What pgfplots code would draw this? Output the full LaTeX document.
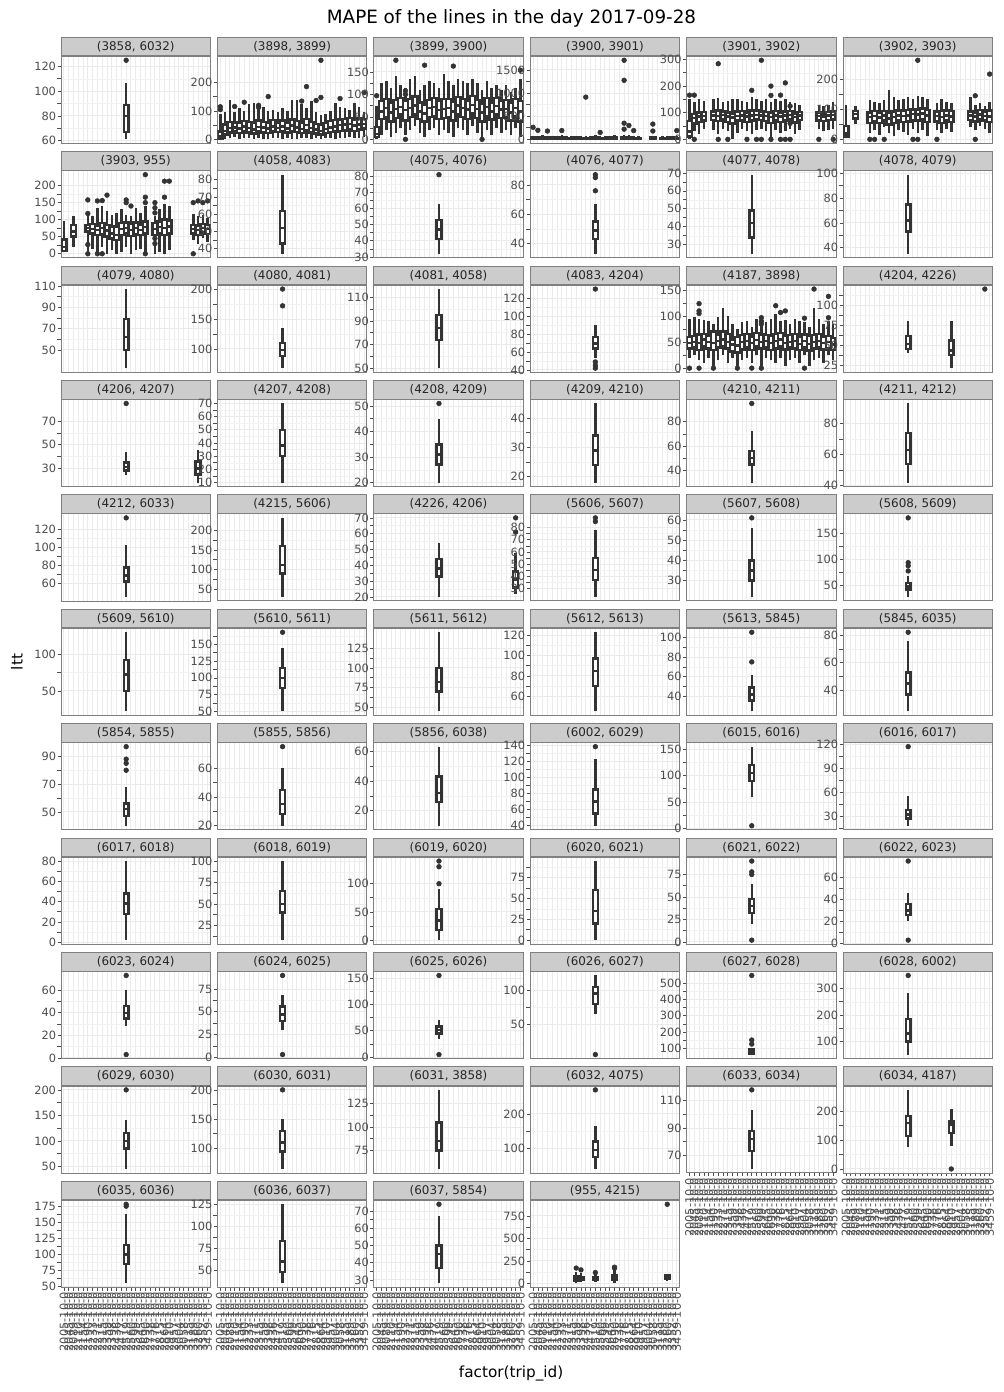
\documentclass[border=0pt]{standalone}
\usepackage{pgfplots}
\pgfplotsset{compat=1.18}
\usepackage{fontspec}
\setmainfont{DejaVu Sans}
\definecolor{bxc}{HTML}{333333}
\definecolor{bord}{HTML}{7F7F7F}
\definecolor{stripc}{HTML}{CCCCCC}
\definecolor{gmaj}{HTML}{EBEBEB}
\definecolor{gmin}{HTML}{F2F2F2}
\definecolor{tickl}{HTML}{4D4D4D}
\newcommand{\tkf}{\fontsize{8.2}{9}\selectfont}
\pgfplotsset{
 every axis title shift=0pt,
 pan/.style={
  scale only axis, width=107.64pt, height=62.64pt, anchor=north west,
  xmin=0.4, xmax=31.6, xtick={1,...,31}, xticklabels={}, xtick style={draw=none},
  enlarge y limits=0.05, scaled y ticks=false,
  axis line style={draw=bord, line width=0.6pt},
  grid=both, major grid style={draw=gmaj, line width=0.7pt}, minor grid style={draw=gmin, line width=0.4pt},
  minor y tick num=1, minor tick style={draw=none},
  ytick style={draw=tickl, line width=0.5pt}, tick align=outside, major tick length=2.4pt,
  ytick pos=left, xtick pos=bottom,
  yticklabel style={font=\tkf, text=tickl, inner sep=1pt},
  title style={at={(0.5,1)}, anchor=south, yshift=0pt, fill=stripc, draw=bord, line width=0.6pt,
    minimum width=107.64pt, minimum height=13.46pt, inner sep=0pt, font=\fontsize{8.6}{10}\selectfont, text=black!85},
  /pgf/number format/1000 sep={},
  /pgf/number format/assume math mode=true,
 },
 bot/.style={
  xtick style={draw=tickl, line width=0.5pt},
  xticklabels={2005-10-0,2045-10-0,2089-10-0,2110-10-0,2154-10-0,2190-10-0,2233-10-0,2271-10-0,2315-10-0,2359-10-0,2398-10-0,2436-10-0,2477-10-0,2519-10-0,2560-10-0,2599-10-0,2645-10-0,2690-10-0,2738-10-0,2776-10-0,2815-10-0,2864-10-0,2910-10-0,2957-10-0,3004-10-0,3058-10-0,3115-10-0,3189-10-0,3260-10-0,3352-10-0,3459-10-0},
  xticklabel style={rotate=90, anchor=east, font=\tkf, text=tickl, inner sep=1pt},
 },
 wsk/.style={draw=bxc, line width=1.8pt, mark=none},
 bxst/.style={draw=bxc, fill=white, line width=1.8pt, line join=miter, mark=none},
 omk/.style={only marks, mark=*, mark size=1.7pt, color=bxc},
}
\newcommand{\bxp}[6]{%
 \pgfmathsetmacro\xa{#1-0.5}\pgfmathsetmacro\xb{#1+0.5}%
 \edef\tmp{\noexpand\addplot[wsk] coordinates {(#1,#2) (#1,#6)};%
 \noexpand\addplot[bxst] coordinates {(\xa,#3) (\xb,#3) (\xb,#5) (\xa,#5) (\xa,#3) (\xb,#3)};%
 \noexpand\addplot[wsk] coordinates {(\xa,#4) (\xb,#4)};}\tmp}
\newcommand{\ou}[1]{\addplot[omk] coordinates {#1};}
\begin{document}
\begin{tikzpicture}
% ---------------- row 0
\begin{axis}[pan, at={(43.92pt,-40.54pt)}, title={(3858, 6032)}, ytick={60,80,...,120}]
\bxp{14}{61}{67}{80}{89}{107}
\ou{(14,125)}
\end{axis}
\begin{axis}[pan, at={(156.53pt,-40.54pt)}, title={(3898, 3899)}, ytick={0,100,200}]
\bxp{1}{0}{3}{10}{28}{90}
\bxp{2}{2}{18}{30}{52}{95}
\bxp{3}{5}{25}{40}{62}{140}
\bxp{4}{8}{28}{42}{60}{95}
\bxp{5}{3}{22}{38}{58}{110}
\bxp{6}{6}{30}{45}{65}{100}
\bxp{7}{4}{24}{40}{62}{125}
\bxp{8}{2}{20}{35}{60}{130}
\bxp{9}{5}{28}{44}{66}{120}
\bxp{10}{3}{25}{42}{62}{115}
\bxp{11}{0}{22}{38}{58}{100}
\bxp{12}{6}{30}{46}{68}{105}
\bxp{13}{4}{26}{40}{60}{95}
\bxp{14}{3}{28}{45}{66}{110}
\bxp{15}{5}{24}{38}{58}{100}
\bxp{16}{2}{30}{48}{70}{140}
\bxp{17}{0}{26}{42}{65}{140}
\bxp{18}{4}{22}{36}{60}{125}
\bxp{19}{6}{32}{50}{72}{110}
\bxp{20}{2}{24}{40}{62}{135}
\bxp{21}{5}{20}{34}{55}{95}
\bxp{22}{3}{18}{30}{50}{85}
\bxp{23}{4}{22}{36}{58}{90}
\bxp{24}{5}{26}{42}{64}{100}
\bxp{25}{2}{28}{46}{68}{130}
\bxp{26}{6}{30}{50}{70}{115}
\bxp{27}{4}{32}{52}{72}{110}
\bxp{28}{8}{35}{55}{75}{105}
\bxp{29}{5}{30}{48}{70}{130}
\bxp{30}{6}{34}{52}{74}{115}
\bxp{31}{10}{38}{55}{72}{95}
\ou{(1,105) (1,115) (4,116) (6,131) (9,113) (9,120) (11,151) (18,135) (19,186) (21,137) (22,148) (22,279) (26,144) (31,165)}
\end{axis}
\begin{axis}[pan, at={(269.14pt,-40.54pt)}, title={(3899, 3900)}, ytick={0,50,...,150}]
\bxp{1}{0}{5}{12}{28}{75}
\bxp{2}{10}{45}{62}{85}{125}
\bxp{3}{20}{50}{70}{90}{130}
\bxp{4}{5}{40}{60}{82}{115}
\bxp{5}{15}{48}{68}{88}{140}
\bxp{6}{25}{55}{72}{92}{120}
\bxp{7}{10}{42}{65}{85}{115}
\bxp{8}{20}{50}{70}{90}{135}
\bxp{9}{30}{55}{75}{95}{140}
\bxp{10}{15}{45}{62}{82}{110}
\bxp{11}{5}{40}{58}{78}{120}
\bxp{12}{20}{50}{70}{88}{130}
\bxp{13}{25}{52}{72}{92}{125}
\bxp{14}{10}{45}{65}{86}{115}
\bxp{15}{20}{48}{68}{90}{145}
\bxp{16}{15}{50}{70}{90}{130}
\bxp{17}{5}{42}{62}{84}{120}
\bxp{18}{25}{55}{75}{94}{135}
\bxp{19}{20}{50}{70}{90}{130}
\bxp{20}{10}{45}{66}{86}{125}
\bxp{21}{30}{58}{76}{96}{135}
\bxp{22}{15}{48}{68}{88}{125}
\bxp{23}{5}{40}{60}{80}{110}
\bxp{24}{20}{52}{72}{92}{130}
\bxp{25}{10}{44}{62}{82}{115}
\bxp{26}{25}{55}{74}{92}{120}
\bxp{27}{15}{48}{66}{86}{110}
\bxp{28}{20}{50}{68}{88}{120}
\bxp{29}{10}{42}{60}{82}{105}
\bxp{30}{25}{52}{70}{90}{115}
\bxp{31}{5}{40}{62}{85}{135}
\ou{(1,97) (5,176) (7,100) (7,108) (7,0) (11,165) (17,163) (23,0) (31,154)}
\end{axis}
\begin{axis}[pan, at={(381.74pt,-40.54pt)}, title={(3900, 3901)}, ytick={0,500,1000,1500}]
\bxp{1}{0}{5}{15}{35}{80}
\bxp{2}{0}{4}{12}{30}{70}
\bxp{3}{0}{6}{15}{38}{85}
\bxp{4}{0}{3}{10}{28}{65}
\bxp{5}{0}{5}{14}{35}{80}
\bxp{6}{0}{4}{12}{30}{75}
\bxp{7}{0}{6}{16}{40}{90}
\bxp{8}{0}{5}{13}{32}{70}
\bxp{9}{0}{4}{12}{30}{65}
\bxp{10}{0}{5}{15}{36}{80}
\bxp{11}{0}{6}{14}{34}{75}
\bxp{12}{0}{5}{13}{30}{70}
\bxp{13}{0}{4}{12}{32}{75}
\bxp{14}{0}{6}{15}{38}{85}
\bxp{15}{0}{5}{14}{33}{70}
\bxp{16}{0}{4}{12}{30}{65}
\bxp{17}{0}{5}{15}{35}{80}
\bxp{18}{0}{6}{16}{40}{90}
\bxp{20}{0}{8}{20}{45}{100}
\bxp{21}{0}{6}{15}{38}{85}
\bxp{22}{0}{5}{14}{34}{75}
\bxp{23}{0}{4}{12}{30}{70}
\bxp{26}{0}{5}{14}{35}{80}
\bxp{28}{0}{4}{12}{30}{70}
\bxp{29}{0}{5}{14}{34}{75}
\bxp{30}{0}{6}{15}{36}{80}
\bxp{31}{0}{5}{14}{34}{75}
\ou{(1,260) (2,195) (4,180) (7,190) (12,913) (15,150) (20,1710) (20,1277) (20,350) (20,220) (21,300) (22,190) (26,330) (26,180) (31,190)}
\end{axis}
\begin{axis}[pan, at={(494.35pt,-40.54pt)}, title={(3901, 3902)}, ytick={0,100,200,300}]
\bxp{1}{0}{10}{30}{68}{150}
\bxp{2}{30}{60}{80}{95}{140}
\bxp{3}{20}{65}{85}{100}{150}
\bxp{4}{40}{70}{88}{102}{145}
\bxp{6}{35}{72}{90}{105}{150}
\bxp{7}{20}{68}{88}{108}{155}
\bxp{8}{40}{75}{92}{105}{140}
\bxp{9}{30}{65}{85}{100}{145}
\bxp{10}{0}{60}{82}{98}{150}
\bxp{11}{25}{70}{88}{104}{150}
\bxp{12}{40}{72}{90}{106}{145}
\bxp{13}{30}{66}{86}{100}{140}
\bxp{14}{20}{70}{90}{108}{160}
\bxp{15}{35}{74}{92}{108}{150}
\bxp{16}{40}{72}{90}{104}{145}
\bxp{17}{30}{68}{88}{102}{150}
\bxp{18}{10}{62}{84}{100}{140}
\bxp{19}{35}{70}{90}{106}{150}
\bxp{20}{25}{66}{86}{100}{145}
\bxp{21}{30}{70}{90}{104}{150}
\bxp{22}{40}{74}{92}{106}{140}
\bxp{23}{20}{64}{84}{98}{135}
\bxp{24}{35}{72}{90}{102}{130}
\bxp{28}{40}{70}{88}{100}{130}
\bxp{29}{30}{68}{86}{98}{125}
\bxp{30}{35}{72}{90}{102}{130}
\bxp{31}{40}{74}{92}{104}{140}
\ou{(1,166) (2,166) (7,284) (14,184) (16,297) (18,200) (18,165) (20,166) (21,212) (22,125) (22,60) (2,0) (7,0) (9,0) (13,0) (15,0) (16,0) (18,0) (20,0) (21,0) (22,0) (28,0) (31,0)}
\end{axis}
\begin{axis}[pan, at={(606.96pt,-40.54pt)}, title={(3902, 3903)}, ytick={0,100,200}]
\bxp{1}{5}{10}{20}{45}{115}
\bxp{3}{50}{70}{85}{95}{110}
\bxp{6}{20}{55}{75}{90}{130}
\bxp{7}{30}{60}{78}{95}{125}
\bxp{8}{15}{55}{72}{88}{120}
\bxp{9}{40}{62}{80}{95}{130}
\bxp{10}{20}{50}{70}{90}{165}
\bxp{11}{10}{55}{75}{92}{140}
\bxp{12}{30}{62}{80}{96}{130}
\bxp{13}{25}{58}{78}{94}{135}
\bxp{14}{15}{60}{80}{98}{140}
\bxp{15}{35}{65}{84}{100}{135}
\bxp{16}{20}{62}{82}{100}{145}
\bxp{17}{30}{66}{86}{102}{140}
\bxp{18}{10}{58}{80}{98}{135}
\bxp{20}{30}{60}{78}{92}{120}
\bxp{21}{20}{55}{75}{95}{135}
\bxp{22}{35}{62}{80}{96}{125}
\bxp{23}{25}{58}{76}{94}{120}
\bxp{27}{40}{65}{80}{92}{140}
\bxp{28}{30}{60}{76}{90}{115}
\bxp{29}{45}{68}{82}{98}{120}
\bxp{30}{35}{62}{78}{92}{110}
\bxp{31}{20}{58}{76}{96}{125}
\ou{(16,263) (31,217) (28,145) (6,0) (7,0) (9,0) (15,0) (16,0) (20,0) (28,0)}
\end{axis}
% ---------------- row 1
\begin{axis}[pan, at={(43.92pt,-122.91pt)}, title={(3903, 955)}, ytick={0,50,...,200}]
\bxp{1}{5}{8}{20}{42}{95}
\bxp{3}{20}{50}{65}{85}{112}
\bxp{6}{0}{65}{75}{85}{115}
\bxp{7}{15}{60}{72}{88}{110}
\bxp{8}{5}{55}{70}{82}{135}
\bxp{9}{20}{58}{75}{90}{140}
\bxp{10}{0}{50}{68}{85}{125}
\bxp{11}{10}{45}{60}{78}{115}
\bxp{12}{0}{40}{55}{80}{120}
\bxp{13}{5}{55}{72}{90}{130}
\bxp{14}{20}{60}{75}{92}{115}
\bxp{15}{0}{52}{70}{88}{110}
\bxp{16}{10}{58}{75}{92}{135}
\bxp{17}{15}{55}{70}{86}{120}
\bxp{18}{5}{60}{78}{95}{140}
\bxp{20}{0}{55}{72}{90}{110}
\bxp{21}{5}{60}{78}{95}{130}
\bxp{22}{0}{55}{75}{100}{145}
\bxp{23}{10}{60}{80}{98}{140}
\bxp{28}{40}{60}{72}{85}{118}
\bxp{29}{30}{55}{70}{82}{110}
\bxp{30}{45}{62}{75}{88}{115}
\bxp{31}{35}{58}{72}{85}{105}
\ou{(6,158) (6,118) (6,27) (6,0) (8,155) (8,0) (9,156) (9,0) (10,172) (14,158) (14,150) (15,140) (18,232) (18,166) (18,150) (18,0) (20,150) (20,135) (20,120) (20,45) (20,30) (22,166) (22,213) (23,213) (28,150) (28,0) (29,155) (30,150) (31,155)}
\end{axis}
\begin{axis}[pan, at={(156.53pt,-122.91pt)}, title={(4058, 4083)}, ytick={40,50,...,80}]
\bxp{14}{37}{43}{52}{62}{83}
\end{axis}
\begin{axis}[pan, at={(269.14pt,-122.91pt)}, title={(4075, 4076)}, ytick={30,40,...,80}]
\bxp{14}{32}{41}{47}{53}{63}
\ou{(14,81)}
\end{axis}
\begin{axis}[pan, at={(381.74pt,-122.91pt)}, title={(4076, 4077)}, ytick={40,60,80}]
\bxp{14}{33}{43}{49}{55}{67}
\ou{(14,76) (14,85) (14,87)}
\end{axis}
\begin{axis}[pan, at={(494.35pt,-122.91pt)}, title={(4077, 4078)}, ytick={30,40,...,70}]
\bxp{14}{25}{34}{42}{49}{69}
\end{axis}
\begin{axis}[pan, at={(606.96pt,-122.91pt)}, title={(4078, 4079)}, ytick={40,60,80,100}]
\bxp{14}{35}{53}{62}{75}{99}
\end{axis}
% ---------------- row 2
\begin{axis}[pan, at={(43.92pt,-205.27pt)}, title={(4079, 4080)}, ytick={50,70,90,110}]
\bxp{14}{33}{50}{62}{79}{107}
\end{axis}
\begin{axis}[pan, at={(156.53pt,-205.27pt)}, title={(4080, 4081)}, ytick={100,150,200}]
\bxp{14}{68}{88}{98}{110}{135}
\ou{(14,172) (14,200)}
\end{axis}
\begin{axis}[pan, at={(269.14pt,-205.27pt)}, title={(4081, 4058)}, ytick={50,70,90,110}]
\bxp{14}{50}{74}{84}{95}{117}
\end{axis}
\begin{axis}[pan, at={(381.74pt,-205.27pt)}, title={(4083, 4204)}, ytick={40,60,...,120}]
\bxp{14}{53}{64}{70}{77}{91}
\ou{(14,131) (14,49) (14,45) (14,42)}
\end{axis}
\begin{axis}[pan, at={(494.35pt,-205.27pt)}, title={(4187, 3898)}, ytick={0,50,100,150}]
\bxp{1}{20}{38}{48}{60}{95}
\bxp{2}{25}{40}{50}{62}{98}
\bxp{3}{15}{35}{48}{65}{95}
\bxp{4}{10}{42}{55}{66}{92}
\bxp{5}{20}{38}{50}{62}{90}
\bxp{6}{5}{35}{48}{70}{85}
\bxp{7}{15}{40}{52}{65}{98}
\bxp{8}{25}{42}{55}{70}{115}
\bxp{9}{10}{38}{50}{66}{100}
\bxp{10}{20}{32}{45}{55}{85}
\bxp{11}{5}{30}{44}{60}{75}
\bxp{12}{15}{36}{50}{64}{88}
\bxp{13}{20}{40}{52}{66}{90}
\bxp{14}{10}{35}{48}{60}{80}
\bxp{15}{25}{42}{54}{68}{95}
\bxp{16}{5}{38}{50}{65}{100}
\bxp{17}{20}{40}{52}{64}{88}
\bxp{18}{15}{35}{48}{62}{95}
\bxp{19}{10}{38}{52}{66}{105}
\bxp{20}{20}{42}{55}{68}{90}
\bxp{21}{5}{36}{48}{62}{92}
\bxp{22}{15}{40}{50}{64}{85}
\bxp{23}{20}{38}{52}{66}{95}
\bxp{24}{10}{35}{46}{60}{90}
\bxp{25}{25}{40}{52}{65}{88}
\bxp{26}{5}{34}{46}{62}{80}
\bxp{27}{15}{38}{50}{64}{115}
\bxp{28}{20}{40}{52}{66}{95}
\bxp{29}{10}{36}{48}{60}{85}
\bxp{30}{25}{38}{50}{62}{90}
\bxp{31}{15}{35}{45}{58}{85}
\ou{(1,0) (3,124) (3,110) (3,105) (3,0) (6,0) (11,0) (14,0) (16,0) (16,97) (16,90) (16,85) (19,120) (20,107) (21,110) (25,96) (25,0) (27,152) (30,138) (30,97)}
\end{axis}
\begin{axis}[pan, at={(606.96pt,-205.27pt)}, title={(4204, 4226)}, ytick={25,50,...,125}]
\bxp{14}{41}{46}{52}{62}{80}
\bxp{23}{22}{38}{44}{56}{80}
\ou{(30,120)}
\end{axis}
% ---------------- row 3
\begin{axis}[pan, at={(43.92pt,-287.64pt)}, title={(4206, 4207)}, ytick={30,50,70}]
\bxp{14}{24}{28}{31}{35}{44}
\bxp{29}{18}{25}{30}{36}{46}
\ou{(14,85)}
\end{axis}
\begin{axis}[pan, at={(156.53pt,-287.64pt)}, title={(4207, 4208)}, ytick={10,20,...,70}]
\bxp{14}{10}{30}{38}{50}{70}
\end{axis}
\begin{axis}[pan, at={(269.14pt,-287.64pt)}, title={(4208, 4209)}, ytick={20,30,40,50}]
\bxp{14}{20}{27}{31}{35}{45}
\ou{(14,51)}
\end{axis}
\begin{axis}[pan, at={(381.74pt,-287.64pt)}, title={(4209, 4210)}, ytick={20,30,40}]
\bxp{14}{18}{24}{29}{34}{45}
\end{axis}
\begin{axis}[pan, at={(494.35pt,-287.64pt)}, title={(4210, 4211)}, ytick={40,60,80}]
\bxp{14}{30}{45}{50}{56}{72}
\ou{(14,95)}
\end{axis}
\begin{axis}[pan, at={(606.96pt,-287.64pt)}, title={(4211, 4212)}, ytick={40,60,80}]
\bxp{14}{42}{54}{63}{74}{93}
\end{axis}
% ---------------- row 4
\begin{axis}[pan, at={(43.92pt,-370.01pt)}, title={(4212, 6033)}, ytick={60,80,...,120}]
\bxp{14}{45}{62}{69}{78}{103}
\ou{(14,133)}
\end{axis}
\begin{axis}[pan, at={(156.53pt,-370.01pt)}, title={(4215, 5606)}, ytick={50,100,...,200}]
\bxp{14}{30}{90}{112}{160}{232}
\end{axis}
\begin{axis}[pan, at={(269.14pt,-370.01pt)}, title={(4226, 4206)}, ytick={20,30,...,70}]
\bxp{14}{20}{33}{38}{44}{54}
\bxp{30}{22}{26}{31}{36}{48}
\ou{(30,70) (30,61)}
\end{axis}
\begin{axis}[pan, at={(381.74pt,-370.01pt)}, title={(5606, 5607)}, ytick={30,40,...,80}]
\bxp{14}{23}{37}{45}{55}{78}
\ou{(14,85) (14,88)}
\end{axis}
\begin{axis}[pan, at={(494.35pt,-370.01pt)}, title={(5607, 5608)}, ytick={30,40,50,60}]
\bxp{14}{22}{30}{35}{40}{56}
\ou{(14,61)}
\end{axis}
\begin{axis}[pan, at={(606.96pt,-370.01pt)}, title={(5608, 5609)}, ytick={50,100,150}]
\bxp{14}{28}{42}{48}{55}{68}
\ou{(14,78) (14,88) (14,94) (14,180)}
\end{axis}
% ---------------- row 5
\begin{axis}[pan, at={(43.92pt,-452.38pt)}, title={(5609, 5610)}, ytick={50,100}]
\bxp{14}{22}{50}{72}{92}{130}
\end{axis}
\begin{axis}[pan, at={(156.53pt,-452.38pt)}, title={(5610, 5611)}, ytick={50,75,...,175}]
\bxp{14}{50}{85}{100}{115}{145}
\ou{(14,168)}
\end{axis}
\begin{axis}[pan, at={(269.14pt,-452.38pt)}, title={(5611, 5612)}, ytick={50,75,100,125}]
\bxp{14}{45}{70}{82}{100}{145}
\end{axis}
\begin{axis}[pan, at={(381.74pt,-452.38pt)}, title={(5612, 5613)}, ytick={60,80,...,120}]
\bxp{14}{45}{70}{85}{97}{123}
\end{axis}
\begin{axis}[pan, at={(494.35pt,-452.38pt)}, title={(5613, 5845)}, ytick={40,60,80,100}]
\bxp{14}{25}{36}{42}{49}{62}
\ou{(14,75) (14,105)}
\end{axis}
\begin{axis}[pan, at={(606.96pt,-452.38pt)}, title={(5845, 6035)}, ytick={40,60,80}]
\bxp{14}{25}{37}{45}{53}{76}
\ou{(14,82)}
\end{axis}
% ---------------- row 6
\begin{axis}[pan, at={(43.92pt,-534.74pt)}, title={(5854, 5855)}, ytick={50,70,90}]
\bxp{14}{40}{47}{52}{56}{68}
\ou{(14,80) (14,85) (14,88) (14,97)}
\end{axis}
\begin{axis}[pan, at={(156.53pt,-534.74pt)}, title={(5855, 5856)}, ytick={20,40,60}]
\bxp{14}{20}{28}{35}{45}{60}
\ou{(14,75)}
\end{axis}
\begin{axis}[pan, at={(269.14pt,-534.74pt)}, title={(5856, 6038)}, ytick={20,40,60}]
\bxp{14}{10}{26}{32}{43}{63}
\end{axis}
\begin{axis}[pan, at={(381.74pt,-534.74pt)}, title={(6002, 6029)}, ytick={40,60,...,140}]
\bxp{14}{40}{55}{70}{85}{123}
\ou{(14,138)}
\end{axis}
\begin{axis}[pan, at={(494.35pt,-534.74pt)}, title={(6015, 6016)}, ytick={0,50,100,150}]
\bxp{14}{60}{90}{105}{120}{155}
\ou{(14,5)}
\end{axis}
\begin{axis}[pan, at={(606.96pt,-534.74pt)}, title={(6016, 6017)}, ytick={0,30,...,120}]
\bxp{14}{18}{27}{32}{38}{55}
\ou{(14,117)}
\end{axis}
% ---------------- row 7
\begin{axis}[pan, at={(43.92pt,-617.11pt)}, title={(6017, 6018)}, ytick={0,20,...,80}]
\bxp{14}{2}{28}{38}{48}{80}
\end{axis}
\begin{axis}[pan, at={(156.53pt,-617.11pt)}, title={(6018, 6019)}, ytick={0,25,...,100}]
\bxp{14}{8}{40}{50}{65}{100}
\end{axis}
\begin{axis}[pan, at={(269.14pt,-617.11pt)}, title={(6019, 6020)}, ytick={0,50,100}]
\bxp{14}{0}{18}{35}{55}{90}
\ou{(14,100) (14,130) (14,140)}
\end{axis}
\begin{axis}[pan, at={(381.74pt,-617.11pt)}, title={(6020, 6021)}, ytick={0,25,...,100}]
\bxp{14}{0}{20}{35}{60}{95}
\end{axis}
\begin{axis}[pan, at={(494.35pt,-617.11pt)}, title={(6021, 6022)}, ytick={0,25,50,75}]
\bxp{14}{20}{32}{40}{48}{65}
\ou{(14,75) (14,78) (14,90) (14,2)}
\end{axis}
\begin{axis}[pan, at={(606.96pt,-617.11pt)}, title={(6022, 6023)}, ytick={0,20,40,60}]
\bxp{14}{20}{26}{30}{36}{46}
\ou{(14,75) (14,3)}
\end{axis}
% ---------------- row 8
\begin{axis}[pan, at={(43.92pt,-699.48pt)}, title={(6023, 6024)}, ytick={0,20,40,60}]
\bxp{14}{28}{35}{40}{46}{60}
\ou{(14,73) (14,3)}
\end{axis}
\begin{axis}[pan, at={(156.53pt,-699.48pt)}, title={(6024, 6025)}, ytick={0,25,50,75}]
\bxp{14}{30}{40}{47}{56}{68}
\ou{(14,90) (14,3)}
\end{axis}
\begin{axis}[pan, at={(269.14pt,-699.48pt)}, title={(6025, 6026)}, ytick={0,50,100,150}]
\bxp{14}{35}{45}{52}{58}{70}
\ou{(14,155) (14,5)}
\end{axis}
\begin{axis}[pan, at={(381.74pt,-699.48pt)}, title={(6026, 6027)}, ytick={50,100}]
\bxp{14}{65}{80}{95}{105}{122}
\ou{(14,5)}
\end{axis}
\begin{axis}[pan, at={(494.35pt,-699.48pt)}, title={(6027, 6028)}, ytick={100,200,...,500}]
\bxp{14}{60}{68}{78}{90}{100}
\ou{(14,550) (14,150) (14,125)}
\end{axis}
\begin{axis}[pan, at={(606.96pt,-699.48pt)}, title={(6028, 6002)}, ytick={100,200,300}]
\bxp{14}{50}{100}{130}{185}{285}
\ou{(14,350)}
\end{axis}
% ---------------- row 9
\begin{axis}[pan, at={(43.92pt,-781.85pt)}, title={(6029, 6030)}, ytick={50,100,150,200}]
\bxp{14}{45}{85}{100}{115}{140}
\ou{(14,200)}
\end{axis}
\begin{axis}[pan, at={(156.53pt,-781.85pt)}, title={(6030, 6031)}, ytick={100,150,200}]
\bxp{14}{65}{95}{110}{130}{150}
\ou{(14,200)}
\end{axis}
\begin{axis}[pan, at={(269.14pt,-781.85pt)}, title={(6031, 3858)}, ytick={75,100,125}]
\bxp{14}{55}{75}{85}{105}{140}
\end{axis}
\begin{axis}[pan, at={(381.74pt,-781.85pt)}, title={(6032, 4075)}, ytick={100,200}]
\bxp{14}{40}{75}{95}{120}{165}
\ou{(14,270)}
\end{axis}
\begin{axis}[pan, bot, at={(494.35pt,-781.85pt)}, title={(6033, 6034)}, ytick={70,90,110}]
\bxp{14}{60}{73}{82}{88}{103}
\ou{(14,118)}
\end{axis}
\begin{axis}[pan, bot, at={(606.96pt,-781.85pt)}, title={(6034, 4187)}, ytick={0,100,200}]
\bxp{14}{75}{115}{160}{185}{275}
\bxp{23}{80}{125}{155}{165}{210}
\ou{(23,0)}
\end{axis}
% ---------------- row 10
\begin{axis}[pan, bot, at={(43.92pt,-864.21pt)}, title={(6035, 6036)}, ytick={50,75,...,175}]
\bxp{14}{55}{85}{100}{115}{163}
\ou{(14,175) (14,178)}
\end{axis}
\begin{axis}[pan, bot, at={(156.53pt,-864.21pt)}, title={(6036, 6037)}, ytick={50,75,100,125}]
\bxp{14}{35}{48}{60}{83}{125}
\end{axis}
\begin{axis}[pan, bot, at={(269.14pt,-864.21pt)}, title={(6037, 5854)}, ytick={30,40,...,70}]
\bxp{14}{28}{37}{45}{50}{67}
\ou{(14,74)}
\end{axis}
\begin{axis}[pan, bot, at={(381.74pt,-864.21pt)}, title={(955, 4215)}, ytick={0,250,500,750}]
\bxp{10}{0}{30}{50}{75}{130}
\bxp{11}{10}{35}{55}{70}{110}
\bxp{14}{20}{40}{55}{70}{100}
\bxp{18}{0}{40}{60}{90}{150}
\bxp{29}{30}{55}{70}{85}{100}
\ou{(10,170) (11,150) (14,120) (18,170) (18,180) (29,880)}
\end{axis}
% ---------------- figure texts
\node[font=\fontsize{13.2}{15}\selectfont] at (368.3pt,-13.0pt) {MAPE of the lines in the day 2017-09-28};
\node[font=\fontsize{11}{13}\selectfont, rotate=90] at (12.2pt,-476.6pt) {ltt};
\node[font=\fontsize{11}{13}\selectfont] at (368pt,-988.6pt) {factor(trip\_id)};
\pgfresetboundingbox
\path[use as bounding box] (0,0) rectangle (722.88pt,-1002.24pt);
\end{tikzpicture}
\end{document}
